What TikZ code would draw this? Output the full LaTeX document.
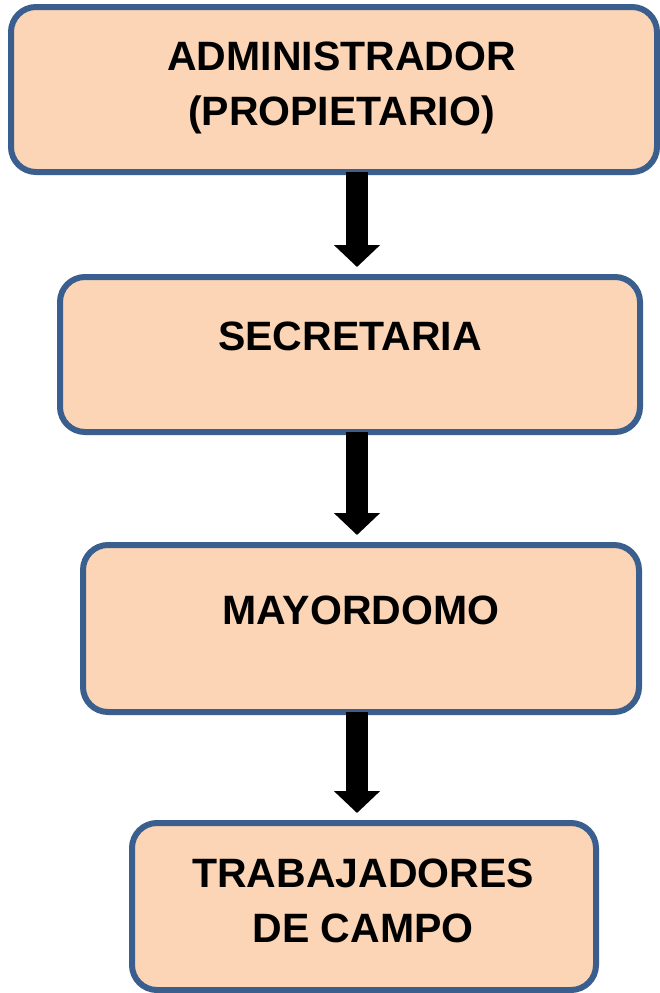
\documentclass[tikz,border=0pt]{standalone}
\usepackage{fontspec}
\setmainfont{Liberation Sans}
\usetikzlibrary{arrows.meta}
\definecolor{boxfill}{HTML}{FBD5B5}
\definecolor{boxline}{HTML}{3A5F8E}
\tikzset{
  orgbox/.style={draw=boxline, fill=boxfill, line width=6pt, rounded corners=25pt,
    inner sep=0pt, outer sep=0pt},
  orgtext/.style={anchor=base, align=center, inner sep=0pt,
    font=\fontsize{41}{55}\selectfont\bfseries},
  bigarrow/.style={line width=22pt, draw=black,
    -{Triangle[length=22pt,width=45pt]}, shorten >=10pt}
}
\begin{document}
\begin{tikzpicture}[x=1pt,y=-1pt]
\useasboundingbox (0,0) rectangle (660,993);
\node[orgbox, minimum width=646pt, minimum height=165pt] (b1) at (334,89.5) {};
\node[orgbox, minimum width=580pt, minimum height=155pt] (b2) at (350,354.5) {};
\node[orgbox, minimum width=556pt, minimum height=167pt] (b3) at (361,628.5) {};
\node[orgbox, minimum width=464pt, minimum height=167pt] (b4) at (364,906.5) {};
\node[orgtext] (t1) at (341.5,125) {ADMINISTRADOR\\(PROPIETARIO)};
\node[orgtext] (t2) at (350,350) {SECRETARIA};
\node[orgtext] (t3) at (361,624) {MAYORDOMO};
\node[orgtext] (t4) at (363,942) {TRABAJADORES\\DE CAMPO};
\coordinate (ax) at (357,0);
\draw[bigarrow] (b1.south -| ax) -- (b2.north -| ax);
\draw[bigarrow] (b2.south -| ax) -- (b3.north -| ax);
\draw[bigarrow] (b3.south -| ax) -- (b4.north -| ax);
\end{tikzpicture}
\end{document}
